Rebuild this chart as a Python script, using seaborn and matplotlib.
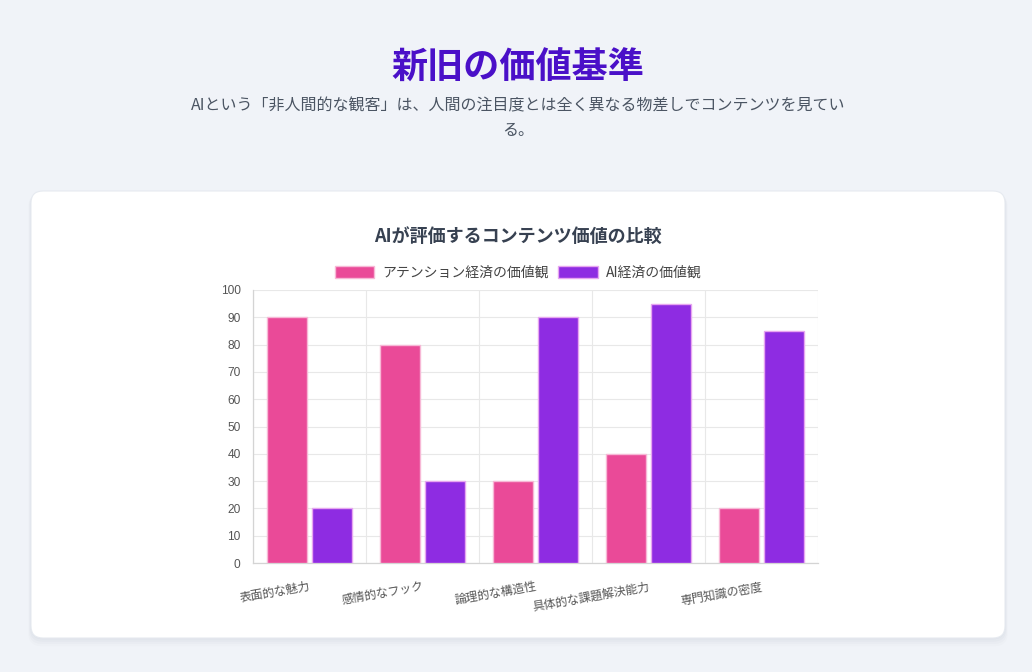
import pandas as pd
import seaborn as sns
import matplotlib.pyplot as plt
from matplotlib.patches import FancyBboxPatch

categories = ["表面的な魅力", "感情的なフック", "論理的な構造性", "具体的な課題解決能力", "専門知識の密度"]
series_names = ["アテンション経済の価値観", "AI経済の価値観"]
attention_values = [90, 80, 30, 40, 20]
ai_values = [20, 30, 90, 95, 85]
y_ticks = list(range(0, 101, 10))

df = pd.DataFrame({
    "category": categories * 2,
    "series": [series_names[0]] * len(categories) + [series_names[1]] * len(categories),
    "value": attention_values + ai_values,
})

sns.set_theme(style="white")
plt.rcParams["font.family"] = ["Noto Sans CJK JP", "DejaVu Sans"]

W, H = 1032, 672
fig = plt.figure(figsize=(W / 100, H / 100), dpi=100)
fig.patch.set_facecolor("#F0F3F8")

def px(x, y):
    # pixel (top-left origin) -> inches for dpi_scale_trans
    return x / 100, (H - y) / 100

# card with soft shadow
for i, a in enumerate([0.025, 0.02, 0.015, 0.01]):
    off = 1 + i * 1.5
    x0, y0 = px(31 - off * 0.5, 638 + off * 1.5)
    sh = FancyBboxPatch((x0, y0), (974 + off) / 100, (447 + off) / 100,
                        boxstyle="round,pad=0,rounding_size=0.13",
                        transform=fig.dpi_scale_trans, facecolor="#1F2A44",
                        edgecolor="none", alpha=a, zorder=-3)
    fig.patches.append(sh)
x0, y0 = px(31, 638)
card = FancyBboxPatch((x0, y0), 974 / 100, 447 / 100,
                      boxstyle="round,pad=0,rounding_size=0.12",
                      transform=fig.dpi_scale_trans, facecolor="white",
                      edgecolor="#E6EAF0", linewidth=0.8, zorder=-2)
fig.patches.append(card)

# headings
fig.text(518 / W, 1 - 68 / H, "新旧の価値基準", ha="center", va="center",
         fontsize=26, fontweight="bold", color="#4A10C8")
fig.text(518 / W, 1 - 106 / H,
         "AIという「非人間的な観客」は、人間の注目度とは全く異なる物差しでコンテンツを見てい",
         ha="center", va="center", fontsize=11.5, color="#4B5563")
fig.text(518 / W, 1 - 131 / H, "る。", ha="center", va="center",
         fontsize=11.5, color="#4B5563")
fig.text(518 / W, 1 - 236 / H, "AIが評価するコンテンツ価値の比較", ha="center",
         va="center", fontsize=13, fontweight="bold", color="#374151")

ax = fig.add_axes([253 / W, 1 - 563 / H, (818 - 253) / W, (563 - 290) / H])
ax.set_facecolor("none")

pink = "#EA4A98"
purple = "#8E2CE2"
sns.barplot(data=df, x="category", y="value", hue="series",
            palette=[pink, purple], saturation=1, width=0.8, gap=0.1, ax=ax,
            edgecolor="none", linewidth=0, zorder=3)
edge_cols = ["#F7B8D6", "#E7A6F0"]
for cont, ec in zip(ax.containers, edge_cols):
    for bar in cont:
        bar.set_edgecolor(ec)
        bar.set_linewidth(1.0)

ax.set_xlim(-0.5, len(categories) - 0.5)
ax.set_ylim(0, 100)
ax.set_yticks(y_ticks)
ax.set_yticklabels([str(v) for v in y_ticks], fontfamily="Liberation Sans",
                   fontsize=8.6, color="#555555")
ax.set_xticks(range(len(categories)))
ax.set_xticklabels(categories, rotation=10, ha="right", va="top",
                   rotation_mode="anchor", fontsize=8.6, color="#555555",
                   family=["Liberation Sans", "Noto Sans CJK JP"])
ax.set_xticks([i - 0.5 for i in range(len(categories) + 1)], minor=True)
ax.tick_params(axis="x", which="major", length=0, pad=13)
ax.tick_params(axis="x", which="minor", length=6, width=0.8, color="#E5E5E5")
ax.tick_params(axis="y", which="major", length=6, width=0.8, color="#E5E5E5", pad=3)
ax.grid(axis="y", which="major", color="#E8E8E8", linewidth=0.8, zorder=0)
ax.grid(axis="x", which="minor", color="#E8E8E8", linewidth=0.8, zorder=0)
ax.set_axisbelow(True)
for s in ["top", "right"]:
    ax.spines[s].set_visible(False)
for s in ["left", "bottom"]:
    ax.spines[s].set_color("#D4D4D4")
    ax.spines[s].set_linewidth(0.9)
ax.set_xlabel("")
ax.set_ylabel("")

handles, labels = ax.get_legend_handles_labels()
ax.legend_.remove()
for h, ec in zip(handles, edge_cols):
    h.set_edgecolor(ec)
    h.set_linewidth(1.0)
fig.legend(handles, labels, loc="center", bbox_to_anchor=(518 / W, 1 - 273 / H),
           ncol=2, frameon=False, fontsize=10, handlelength=2.85,
           handleheight=0.9, handletextpad=0.55, columnspacing=0.7,
           labelcolor="#444444")

fig.savefig("out.png", dpi=100, facecolor=fig.get_facecolor())
